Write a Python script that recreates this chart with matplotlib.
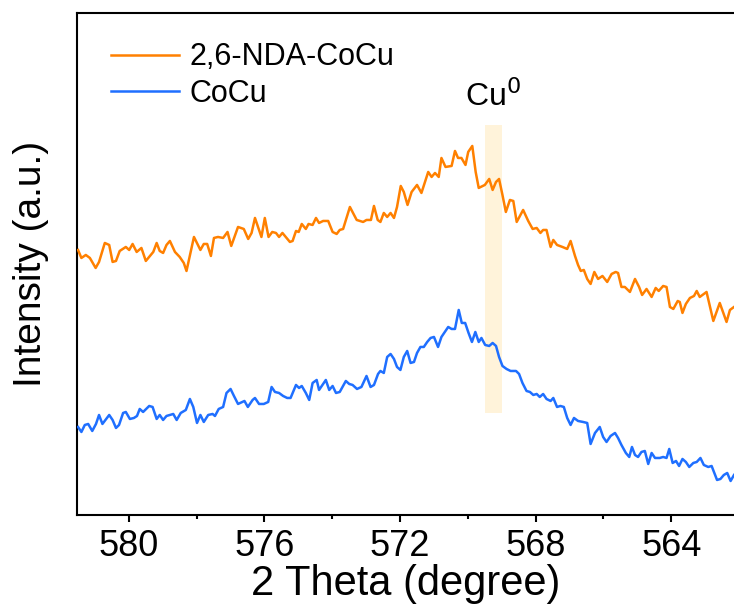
import matplotlib
matplotlib.use("Agg")
import matplotlib.pyplot as plt
from matplotlib.ticker import MultipleLocator

plt.rcParams['font.family'] = ['Liberation Sans', 'DejaVu Sans']

# 2 Theta (degree) / intensity (a.u.)
theta_nda = [581.50, 581.40, 581.27, 581.15, 580.98, 580.88, 580.71, 580.58, 580.48, 580.38,
             580.27, 580.09, 579.99, 579.89, 579.77, 579.63, 579.50, 579.28, 579.18, 579.09,
             578.99, 578.89, 578.79, 578.64, 578.50, 578.38, 578.30, 578.08, 577.89, 577.79,
             577.69, 577.58, 577.49, 577.37, 577.22, 577.09, 576.98, 576.78, 576.61, 576.48,
             576.38, 576.28, 576.09, 575.99, 575.88, 575.77, 575.66, 575.57, 575.47, 575.25,
             575.17, 575.07, 574.99, 574.90, 574.78, 574.70, 574.58, 574.48, 574.39, 574.27,
             574.12, 573.99, 573.87, 573.78, 573.68, 573.48, 573.28, 573.09, 572.99, 572.86,
             572.77, 572.66, 572.58, 572.48, 572.38, 572.28, 572.18, 572.09, 571.98, 571.89,
             571.78, 571.66, 571.50, 571.37, 571.17, 571.07, 570.97, 570.86, 570.78, 570.66,
             570.48, 570.38, 570.29, 570.19, 570.07, 569.99, 569.87, 569.77, 569.68, 569.50,
             569.37, 569.27, 569.17, 569.08, 568.98, 568.88, 568.76, 568.66, 568.56, 568.37,
             568.22, 568.09, 567.97, 567.86, 567.78, 567.68, 567.56, 567.48, 567.37, 567.21,
             567.07, 566.97, 566.84, 566.75, 566.67, 566.58, 566.48, 566.38, 566.27, 566.16,
             566.03, 565.89, 565.76, 565.64, 565.57, 565.47, 565.37, 565.22, 565.07, 564.95,
             564.86, 564.73, 564.58, 564.46, 564.37, 564.24, 564.14, 564.04, 563.94, 563.81,
             563.75, 563.67, 563.57, 563.45, 563.33, 563.25, 563.16, 562.96, 562.76, 562.57,
             562.37, 562.27, 562.15]
int_nda = [2.65, 2.57, 2.60, 2.57, 2.47, 2.53, 2.72, 2.70, 2.53, 2.54,
           2.64, 2.68, 2.65, 2.71, 2.63, 2.67, 2.54, 2.63, 2.72, 2.64,
           2.62, 2.70, 2.74, 2.63, 2.58, 2.52, 2.44, 2.78, 2.65, 2.71,
           2.71, 2.59, 2.77, 2.78, 2.77, 2.83, 2.69, 2.88, 2.86, 2.76,
           2.82, 2.97, 2.78, 2.97, 2.78, 2.83, 2.82, 2.78, 2.82, 2.73,
           2.74, 2.84, 2.83, 2.91, 2.86, 2.91, 2.90, 2.97, 2.92, 2.94,
           2.94, 2.83, 2.81, 2.85, 2.86, 3.08, 2.95, 2.93, 2.95, 2.95,
           3.09, 2.95, 2.93, 3.02, 2.98, 3.02, 2.97, 3.08, 3.29, 3.23,
           3.10, 3.23, 3.30, 3.22, 3.43, 3.38, 3.42, 3.38, 3.57, 3.48,
           3.49, 3.64, 3.57, 3.57, 3.50, 3.63, 3.69, 3.43, 3.27, 3.30,
           3.36, 3.25, 3.33, 3.36, 3.20, 3.03, 3.15, 3.14, 2.93, 3.05,
           2.94, 2.86, 2.87, 2.82, 2.85, 2.85, 2.68, 2.75, 2.70, 2.68,
           2.66, 2.74, 2.59, 2.50, 2.44, 2.45, 2.36, 2.31, 2.43, 2.36,
           2.39, 2.33, 2.41, 2.43, 2.42, 2.28, 2.28, 2.23, 2.36, 2.28,
           2.20, 2.26, 2.18, 2.27, 2.24, 2.29, 2.28, 2.08, 2.06, 2.14,
           2.13, 2.02, 2.11, 2.17, 2.19, 2.24, 2.18, 2.23, 1.94, 2.12,
           1.93, 2.05, 2.08]

theta_cocu = [581.50, 581.40, 581.30, 581.20, 581.08, 580.97, 580.88, 580.78, 580.58, 580.48,
              580.38, 580.29, 580.17, 580.09, 579.97, 579.85, 579.76, 579.68, 579.58, 579.40,
              579.30, 579.18, 579.09, 578.99, 578.89, 578.69, 578.59, 578.47, 578.32, 578.20,
              578.10, 577.99, 577.89, 577.79, 577.66, 577.53, 577.46, 577.35, 577.22, 577.12,
              577.00, 576.90, 576.78, 576.59, 576.49, 576.35, 576.28, 576.16, 576.02, 575.89,
              575.79, 575.69, 575.57, 575.45, 575.33, 575.23, 575.07, 574.98, 574.90, 574.78,
              574.68, 574.58, 574.46, 574.39, 574.19, 574.09, 573.99, 573.89, 573.78, 573.60,
              573.50, 573.40, 573.27, 573.14, 572.99, 572.87, 572.77, 572.65, 572.58, 572.48,
              572.38, 572.28, 572.18, 572.09, 571.99, 571.89, 571.79, 571.69, 571.59, 571.50,
              571.40, 571.30, 571.20, 571.10, 571.00, 570.88, 570.78, 570.68, 570.58, 570.48,
              570.38, 570.27, 570.18, 570.08, 569.98, 569.88, 569.78, 569.68, 569.60, 569.49,
              569.37, 569.27, 569.17, 569.08, 568.98, 568.86, 568.74, 568.58, 568.49, 568.39,
              568.27, 568.17, 568.07, 567.97, 567.88, 567.78, 567.68, 567.56, 567.48, 567.37,
              567.27, 567.17, 567.07, 566.97, 566.87, 566.75, 566.60, 566.48, 566.38, 566.25,
              566.11, 566.01, 565.91, 565.79, 565.66, 565.57, 565.47, 565.34, 565.24, 565.16,
              565.07, 564.98, 564.88, 564.78, 564.68, 564.58, 564.48, 564.34, 564.24, 564.14,
              564.06, 563.96, 563.86, 563.77, 563.67, 563.57, 563.47, 563.35, 563.25, 563.14,
              563.04, 562.91, 562.81, 562.65, 562.55, 562.45, 562.35, 562.25, 562.15]
int_cocu = [0.88, 0.83, 0.90, 0.91, 0.84, 0.91, 1.00, 0.91, 1.00, 0.95,
            0.87, 0.90, 1.02, 1.03, 0.96, 0.97, 0.99, 1.06, 1.03, 1.09,
            1.08, 0.96, 1.00, 0.95, 0.99, 1.01, 0.95, 1.02, 1.05, 1.16,
            1.08, 0.92, 1.00, 0.93, 1.00, 1.01, 0.99, 1.06, 1.08, 1.22,
            1.26, 1.19, 1.11, 1.14, 1.08, 1.15, 1.17, 1.11, 1.11, 1.13,
            1.28, 1.23, 1.22, 1.19, 1.17, 1.17, 1.30, 1.27, 1.29, 1.22,
            1.15, 1.32, 1.35, 1.25, 1.35, 1.25, 1.29, 1.22, 1.23, 1.34,
            1.31, 1.30, 1.26, 1.28, 1.39, 1.28, 1.30, 1.41, 1.44, 1.42,
            1.58, 1.61, 1.56, 1.48, 1.45, 1.58, 1.64, 1.52, 1.53, 1.62,
            1.68, 1.68, 1.73, 1.77, 1.78, 1.68, 1.78, 1.83, 1.88, 1.86,
            1.86, 2.05, 1.92, 1.92, 1.82, 1.73, 1.83, 1.73, 1.77, 1.70,
            1.69, 1.72, 1.69, 1.58, 1.49, 1.46, 1.44, 1.44, 1.41, 1.32,
            1.24, 1.23, 1.20, 1.21, 1.18, 1.21, 1.16, 1.14, 1.17, 1.08,
            1.09, 1.08, 0.97, 0.90, 0.97, 0.94, 0.93, 0.92, 0.71, 0.82,
            0.88, 0.78, 0.73, 0.79, 0.82, 0.77, 0.70, 0.62, 0.58, 0.68,
            0.60, 0.58, 0.63, 0.64, 0.51, 0.62, 0.57, 0.57, 0.58, 0.57,
            0.66, 0.52, 0.54, 0.49, 0.56, 0.53, 0.48, 0.52, 0.53, 0.57,
            0.50, 0.48, 0.49, 0.35, 0.36, 0.40, 0.42, 0.34, 0.40]

# Cu0 reference band
band_lo, band_hi = 569.0, 569.5
band_bottom, band_top = 1.02, 3.90

fig = plt.figure(figsize=(7.34, 6.05), dpi=100)
ax = fig.add_axes([0.1049, 0.1488, 0.8951, 0.8298])

ax.fill_between([band_hi, band_lo], band_bottom, band_top, color='#FFF3DA', lw=0, zorder=1)
ax.text((band_lo + band_hi) / 2, 4.02, 'Cu$^{0}$', fontsize=23, ha='center', va='bottom')

ax.plot(theta_nda, int_nda, color='#FF8000', lw=1.8, label='2,6-NDA-CoCu', zorder=3)
ax.plot(theta_cocu, int_cocu, color='#1F6FFF', lw=1.8, label='CoCu', zorder=3)

ax.set_xlim(581.53, 562.15)
ax.set_ylim(0, 5.02)
ax.xaxis.set_major_locator(MultipleLocator(4))
ax.xaxis.set_minor_locator(MultipleLocator(2))
ax.set_yticks([])
ax.tick_params(axis='x', which='major', direction='out', length=5, width=1.5,
               labelsize=26, pad=5)
ax.tick_params(axis='x', which='minor', direction='out', length=3, width=1.5)
for s in ['left', 'bottom', 'top']:
    ax.spines[s].set_linewidth(1.5)
ax.spines['right'].set_visible(False)

ax.set_xlabel('2 Theta (degree)', fontsize=30, labelpad=0)
ax.set_ylabel('Intensity (a.u.)', fontsize=28, labelpad=20)

ax.legend(loc='upper left', bbox_to_anchor=(0.015, 0.99), frameon=False, fontsize=22,
          handlelength=2.2, handletextpad=0.35, labelspacing=0.2, borderpad=0.3)

fig.savefig('out.png', dpi=100)
